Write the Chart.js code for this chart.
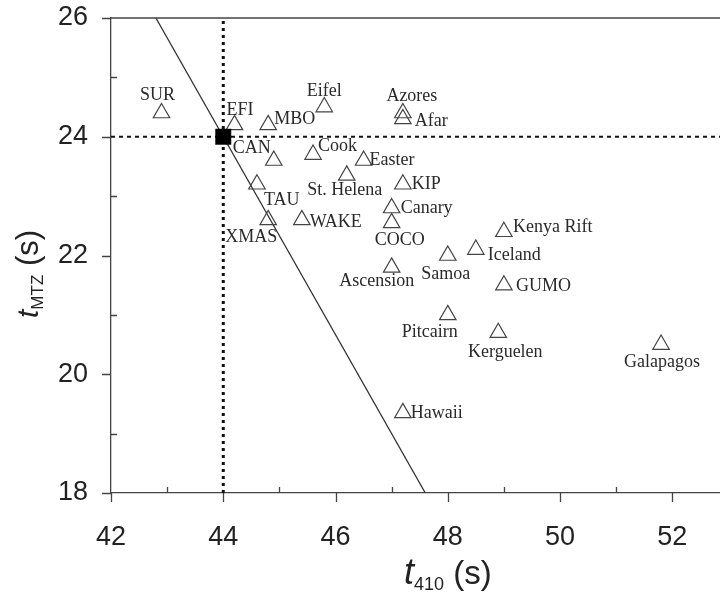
<!DOCTYPE html>
<html>
<head>
<meta charset="utf-8">
<script src="https://cdn.jsdelivr.net/npm/chart.js@4.4.1/dist/chart.umd.min.js"></script>
<style>
  html, body { margin: 0; padding: 0; background: #fff; }
  #wrap { width: 720px; height: 595px; }
</style>
</head>
<body>
<div id="wrap"><canvas id="chart" width="720" height="595"></canvas></div>
<script>
// station names and travel times
const stations = ['SUR', 'EFI', 'MBO', 'Eifel', 'Azores', 'Afar', 'CAN', 'Cook', 'Easter',
  'St. Helena', 'KIP', 'TAU', 'Canary', 'COCO', 'XMAS', 'WAKE', 'Kenya Rift', 'Iceland',
  'Samoa', 'Ascension', 'GUMO', 'Pitcairn', 'Kerguelen', 'Galapagos', 'Hawaii'];
const t410 = [42.9, 44.2, 44.8, 45.8, 47.2, 47.2, 44.9, 45.6, 46.5,
  46.2, 47.2, 44.6, 47.0, 47.0, 44.8, 45.4, 49.0, 48.5,
  48.0, 47.0, 49.0, 48.0, 48.9, 51.8, 47.2];
const tMTZ = [24.4, 24.2, 24.2, 24.5, 24.4, 24.3, 23.6, 23.7, 23.6,
  23.35, 23.2, 23.2, 22.8, 22.55, 22.6, 22.6, 22.4, 22.1,
  22.0, 21.8, 21.5, 21.0, 20.7, 20.5, 19.35];

// reference point and the line through it
const refX = [44];
const refY = [24];
const lineX = [42.8, 47.6];
const lineY = [26, 18];

// axis ticks
const xTicks = [42, 44, 46, 48, 50, 52];
const yTicks = [18, 20, 22, 24, 26];

// where each station label sits next to its triangle: [align, dx, dy]
const labelPos = [
  ['center', -4, -18], ['left', -8, -15], ['left', 6, -6], ['center', 0, -16],
  ['center', 9, -17], ['left', 12, 2], ['right', -3, -12], ['left', 5, -8],
  ['left', 6, 0], ['center', -2, 15], ['left', 9, 0], ['left', 7, 16],
  ['left', 9, 0], ['center', 8, 17], ['center', -17, 17], ['left', 8, 2],
  ['left', 9, -4], ['left', 12, 6], ['center', -2, 19], ['center', -15, 14],
  ['left', 12, 1], ['center', -18, 17], ['center', 7, 20], ['center', 1, 18],
  ['left', 8, 0]
];

const axisColor = '#444';

const stationLabels = {
  id: 'stationLabels',
  afterDatasetsDraw(chart) {
    const ctx = chart.ctx;
    const meta = chart.getDatasetMeta(1);
    ctx.save();
    ctx.font = '18px "Liberation Serif", "DejaVu Serif", serif';
    ctx.fillStyle = '#2a2a2a';
    ctx.textBaseline = 'middle';
    meta.data.forEach((pt, i) => {
      const p = labelPos[i];
      ctx.textAlign = p[0];
      ctx.fillText(stations[i], pt.x + p[1], pt.y + p[2]);
    });
    ctx.restore();
  }
};

function drawTitle(ctx, parts) {
  let x = 0;
  parts.forEach(p => {
    ctx.font = p.font;
    ctx.fillText(p.text, x, p.dy);
    x += ctx.measureText(p.text).width;
  });
}

const axesDecor = {
  id: 'axesDecor',
  afterDraw(chart) {
    const ctx = chart.ctx;
    const a = chart.chartArea;
    const xs = chart.scales.x, ys = chart.scales.y;
    ctx.save();
    ctx.strokeStyle = axisColor;
    ctx.lineWidth = 1.3;
    ctx.beginPath();
    // top frame line
    ctx.moveTo(a.left, a.top);
    ctx.lineTo(a.right, a.top);
    // x ticks
    for (let v = 42; v <= 52; v++) {
      const px = Math.round(xs.getPixelForValue(v)) + 0.5;
      if (xTicks.includes(v)) { ctx.moveTo(px, a.bottom); ctx.lineTo(px, a.bottom + 9); }
      else { ctx.moveTo(px, a.bottom); ctx.lineTo(px, a.bottom - 6); }
    }
    // y ticks
    for (let v = 18; v <= 26; v++) {
      const py = Math.round(ys.getPixelForValue(v)) + 0.5;
      if (yTicks.includes(v)) { ctx.moveTo(a.left, py); ctx.lineTo(a.left - 9, py); }
      else { ctx.moveTo(a.left, py); ctx.lineTo(a.left + 6, py); }
    }
    ctx.stroke();

    ctx.fillStyle = '#222';
    ctx.textBaseline = 'alphabetic';
    ctx.textAlign = 'left';
    // x title
    const xParts = [
      { text: 't', font: 'italic 36px "Liberation Sans", Arial, sans-serif', dy: 0 },
      { text: '410', font: '18px "Liberation Sans", Arial, sans-serif', dy: 6 },
      { text: ' (s)', font: '33px "Liberation Sans", Arial, sans-serif', dy: 0 }
    ];
    ctx.save();
    ctx.translate(404, 584);
    drawTitle(ctx, xParts);
    ctx.restore();
    // y title
    const yParts = [
      { text: 't', font: 'italic 30px "Liberation Sans", Arial, sans-serif', dy: 0 },
      { text: 'MTZ', font: '17px "Liberation Sans", Arial, sans-serif', dy: 5 },
      { text: ' (s)', font: '31px "Liberation Sans", Arial, sans-serif', dy: 0 }
    ];
    ctx.save();
    ctx.translate(38, 318);
    ctx.rotate(-Math.PI / 2);
    drawTitle(ctx, yParts);
    ctx.restore();
    ctx.restore();
  }
};

const tickFont = { family: '"Liberation Sans", Arial, sans-serif', size: 27 };

new Chart(document.getElementById('chart'), {
  type: 'scatter',
  data: {
    datasets: [
      {
        data: refX.map((x, i) => ({ x: x, y: refY[i] })),
        pointStyle: 'rect',
        pointRadius: 11.3,
        backgroundColor: '#000',
        borderColor: '#000',
        borderWidth: 0
      },
      {
        data: t410.map((x, i) => ({ x: x, y: tMTZ[i] })),
        pointStyle: 'triangle',
        pointRadius: 9.5,
        backgroundColor: 'rgba(255,255,255,0)',
        borderColor: '#444',
        borderWidth: 1.2
      },
      {
        data: lineX.map((x, i) => ({ x: x, y: lineY[i] })),
        showLine: true,
        pointRadius: 0,
        borderColor: '#333',
        borderWidth: 1.3
      },
      {
        data: [{ x: refX[0], y: 18 }, { x: refX[0], y: 26 }],
        showLine: true,
        pointRadius: 0,
        borderColor: '#111',
        borderWidth: 3,
        borderDash: [3, 4]
      },
      {
        data: [{ x: 42, y: refY[0] }, { x: 53, y: refY[0] }],
        showLine: true,
        pointRadius: 0,
        borderColor: '#111',
        borderWidth: 2,
        borderDash: [4, 4]
      }
    ]
  },
  options: {
    responsive: false,
    animation: false,
    layout: { autoPadding: false, padding: { top: 18, right: 0, left: 0, bottom: 0 } },
    plugins: { legend: { display: false }, tooltip: { enabled: false } },
    scales: {
      x: {
        type: 'linear',
        min: 42,
        max: 52.85,
        afterFit: s => { s.height = 102; s.paddingLeft = 0; s.paddingRight = 0; },
        afterBuildTicks: s => { s.ticks = xTicks.map(v => ({ value: v })); },
        ticks: { font: tickFont, color: '#222', padding: 28, maxRotation: 0, autoSkip: false },
        grid: { display: false, drawTicks: false },
        border: { display: true, color: axisColor, width: 1.3 }
      },
      y: {
        type: 'linear',
        min: 18,
        max: 26,
        afterFit: s => { s.width = 111; s.paddingTop = 0; s.paddingBottom = 0; },
        afterBuildTicks: s => { s.ticks = yTicks.map(v => ({ value: v })); },
        ticks: { font: tickFont, color: '#222', padding: 23, autoSkip: false },
        grid: { display: false, drawTicks: false },
        border: { display: true, color: axisColor, width: 1.3 }
      }
    }
  },
  plugins: [stationLabels, axesDecor]
});
</script>
</body>
</html>
